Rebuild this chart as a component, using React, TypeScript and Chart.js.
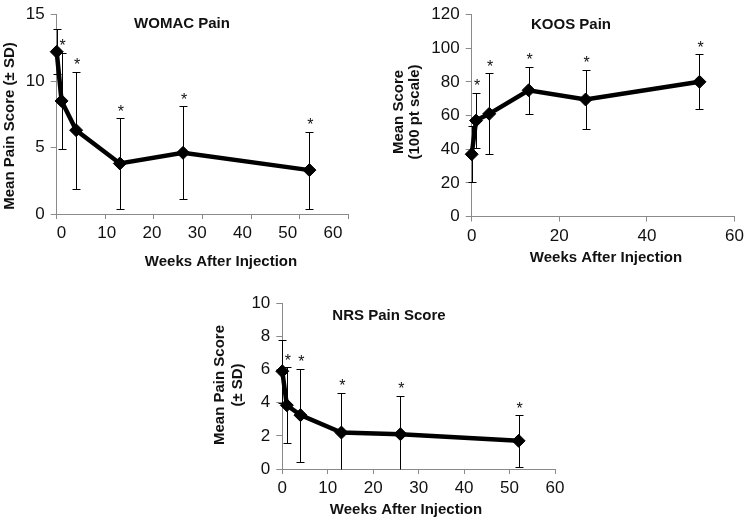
import React, { useEffect, useRef } from "react";
import { Chart, registerables } from "chart.js";

Chart.register(...registerables);

// ---------- data ----------
const womacTitle = "WOMAC Pain";
const womacWeeks = [0, 1, 4, 13, 26, 52];
const womacMean = [12.2, 8.5, 6.3, 3.8, 4.6, 3.3];
const womacSD = [1.7, 3.6, 4.4, 3.4, 3.5, 2.9];
const womacStar = [false, true, true, true, true, true];
const womacYRange = [0, 15, 5]; // min, max, step
const womacXRange = [0, 60, 10];

const koosTitle = "KOOS Pain";
const koosWeeks = [0, 1, 4, 13, 26, 52];
const koosMean = [37, 57, 61, 75, 69.5, 80];
const koosSD = [16.5, 16.5, 24, 14.1, 17.6, 16.3];
const koosStar = [false, true, true, true, true, true];
const koosYRange = [0, 120, 20];
const koosXRange = [0, 60, 20];

const nrsTitle = "NRS Pain Score";
const nrsWeeks = [0, 1, 4, 13, 26, 52];
const nrsMean = [5.9, 3.85, 3.25, 2.2, 2.1, 1.7];
const nrsSD = [1.9, 2.3, 2.8, 2.4, 2.3, 1.55];
const nrsStar = [false, true, true, true, true, true];
const nrsYRange = [0, 10, 2];
const nrsXRange = [0, 60, 10];

const xAxisTitle = "Weeks After Injection";
const womacYTitle = ["Mean Pain Score (± SD)"];
const koosYTitle = ["Mean Score", "(100 pt scale)"];
const nrsYTitle = ["Mean Pain Score", "(± SD)"];

// ---------- style ----------
const FONT = "'Liberation Sans', Arial, Helvetica, sans-serif";
const AXIS = "#8a8a8a";
const TEXT = "#111111";
const W = 750;
const H = 520;

type Txt = { text: string[]; x: number[]; y: number; rot?: boolean };
type PanelCfg = {
  weeks: number[];
  mean: number[];
  sd: number[];
  star: boolean[];
  yr: number[];
  xr: number[];
  area: { left: number; right: number; top: number; bottom: number };
  labelAxis?: { min: number; max: number };
  texts: Txt[];
};

const panels: PanelCfg[] = [
  {
    weeks: womacWeeks,
    mean: womacMean,
    sd: womacSD,
    star: womacStar,
    yr: womacYRange,
    xr: womacXRange,
    area: { left: 56.7, right: 348.3, top: 11, bottom: 214 },
    labelAxis: { min: -1.06, max: 63.38 },
    texts: [
      { text: [womacTitle], x: [182], y: 24 },
      { text: womacYTitle, x: [10], y: 126, rot: true },
      { text: [xAxisTitle], x: [221], y: 261.5 },
    ],
  },
  {
    weeks: koosWeeks,
    mean: koosMean,
    sd: koosSD,
    star: koosStar,
    yr: koosYRange,
    xr: koosXRange,
    area: { left: 471.7, right: 738.3, top: 9, bottom: 216.5 },
    texts: [
      { text: [koosTitle], x: [571], y: 25 },
      { text: koosYTitle, x: [399, 415], y: 112, rot: true },
      { text: [xAxisTitle], x: [606], y: 257.5 },
    ],
  },
  {
    weeks: nrsWeeks,
    mean: nrsMean,
    sd: nrsSD,
    star: nrsStar,
    yr: nrsYRange,
    xr: nrsXRange,
    area: { left: 282.3, right: 555, top: 303.3, bottom: 469 },
    texts: [
      { text: [nrsTitle], x: [389], y: 316 },
      { text: nrsYTitle, x: [220, 237.5], y: 385, rot: true },
      { text: [xAxisTitle], x: [406], y: 510 },
    ],
  },
];

function buildConfig(p: PanelCfg): any {
  const YW = 50;
  const XH = 40;
  const a = p.area;
  const tickFont = { family: FONT, size: 17, lineHeight: 1 };

  const scales: any = {
    x: {
      type: "linear",
      position: "bottom",
      min: p.xr[0],
      max: p.xr[1],
      weight: 0,
      ticks: {
        stepSize: p.xr[2],
        display: !p.labelAxis,
        font: tickFont,
        color: TEXT,
        padding: 6,
        maxRotation: 0,
        autoSkip: false,
      },
      grid: { drawOnChartArea: false, drawTicks: true, tickLength: 5, color: AXIS, lineWidth: 1 },
      border: { color: AXIS, width: 1 },
      afterFit: (s: any) => {
        s.height = p.labelAxis ? 5 : XH;
      },
    },
    y: {
      type: "linear",
      position: "left",
      min: p.yr[0],
      max: p.yr[1],
      ticks: { stepSize: p.yr[2], font: tickFont, color: TEXT, padding: 6 },
      grid: { drawOnChartArea: false, drawTicks: true, tickLength: 6, color: AXIS, lineWidth: 1 },
      border: { color: AXIS, width: 1 },
      afterFit: (s: any) => {
        s.width = YW;
      },
    },
  };
  if (p.labelAxis) {
    scales.xl = {
      type: "linear",
      position: "bottom",
      min: p.labelAxis.min,
      max: p.labelAxis.max,
      weight: 1,
      ticks: {
        stepSize: p.xr[2],
        includeBounds: false,
        font: tickFont,
        color: TEXT,
        padding: 6,
        maxRotation: 0,
        autoSkip: false,
        callback: (v: number) => (v >= p.xr[0] && v <= p.xr[1] ? String(v) : null),
      },
      grid: { display: false, drawTicks: false },
      border: { display: false },
      afterFit: (s: any) => {
        s.height = XH - 5;
      },
    };
  }

  const errorBars = {
    id: "errorBars",
    beforeDatasetsDraw(chart: any) {
      const { ctx } = chart;
      const xs = chart.scales.x;
      const ys = chart.scales.y;
      ctx.save();
      ctx.strokeStyle = "#000";
      ctx.lineWidth = 1;
      p.weeks.forEach((w, i) => {
        const px = Math.round(xs.getPixelForValue(w)) + 0.5;
        const hi = p.mean[i] + p.sd[i];
        const lo = p.mean[i] - p.sd[i];
        const yHi = Math.round(ys.getPixelForValue(Math.min(hi, ys.max))) + 0.5;
        const loClipped = lo < ys.min;
        const yLo = Math.round(ys.getPixelForValue(Math.max(lo, ys.min))) + 0.5;
        ctx.beginPath();
        ctx.moveTo(px, yHi);
        ctx.lineTo(px, yLo);
        ctx.moveTo(px - 4, yHi);
        ctx.lineTo(px + 4, yHi);
        if (!loClipped) {
          ctx.moveTo(px - 4, yLo);
          ctx.lineTo(px + 4, yLo);
        }
        ctx.stroke();
      });
      ctx.restore();
    },
    afterDatasetsDraw(chart: any) {
      const { ctx } = chart;
      const xs = chart.scales.x;
      const ys = chart.scales.y;
      ctx.save();
      ctx.fillStyle = TEXT;
      ctx.font = `16px ${FONT}`;
      ctx.textAlign = "center";
      ctx.textBaseline = "middle";
      p.weeks.forEach((w, i) => {
        if (!p.star[i]) return;
        const px = xs.getPixelForValue(w);
        const yHi = ys.getPixelForValue(Math.min(p.mean[i] + p.sd[i], ys.max));
        ctx.fillText("*", px + 1, yHi - 6);
      });
      ctx.restore();
    },
  };

  const texts = {
    id: "panelTexts",
    afterDraw(chart: any) {
      const { ctx } = chart;
      ctx.save();
      ctx.fillStyle = TEXT;
      ctx.font = `bold 15px ${FONT}`;
      ctx.textAlign = "center";
      ctx.textBaseline = "middle";
      p.texts.forEach((t) => {
        t.text.forEach((line, k) => {
          ctx.save();
          ctx.translate(t.x[k], t.y);
          if (t.rot) ctx.rotate(-Math.PI / 2);
          ctx.fillText(line, 0, 0);
          ctx.restore();
        });
      });
      ctx.restore();
    },
  };

  return {
    type: "line",
    data: {
      datasets: [
        {
          data: p.weeks.map((w, i) => ({ x: w, y: p.mean[i] })),
          borderColor: "#000",
          borderWidth: 4.5,
          backgroundColor: "#000",
          pointStyle: "rectRot",
          pointRadius: 6.5,
          pointBackgroundColor: "#000",
          pointBorderColor: "#000",
          pointBorderWidth: 1,
          tension: 0,
          clip: false,
          xAxisID: "x",
          yAxisID: "y",
        },
      ],
    },
    options: {
      animation: false,
      responsive: false,
      devicePixelRatio: 1,
      events: [],
      layout: {
        padding: {
          left: a.left - YW,
          top: a.top,
          right: W - a.right,
          bottom: H - a.bottom - XH,
        },
      },
      plugins: {
        legend: { display: false },
        tooltip: { enabled: false },
        title: { display: false },
      },
      scales,
    },
    plugins: [errorBars, texts],
  };
}

function Panel({ cfg }: { cfg: PanelCfg }) {
  const ref = useRef<HTMLCanvasElement>(null);
  useEffect(() => {
    const chart = new Chart(ref.current as HTMLCanvasElement, buildConfig(cfg));
    return () => chart.destroy();
  }, [cfg]);
  return (
    <canvas
      ref={ref}
      width={W}
      height={H}
      style={{ position: "absolute", left: 0, top: 0, width: W, height: H }}
    />
  );
}

export default function App() {
  return (
    <div style={{ position: "absolute", left: 0, top: 0, width: W, height: H, background: "#fff" }}>
      {panels.map((p, i) => (
        <Panel key={i} cfg={p} />
      ))}
    </div>
  );
}
